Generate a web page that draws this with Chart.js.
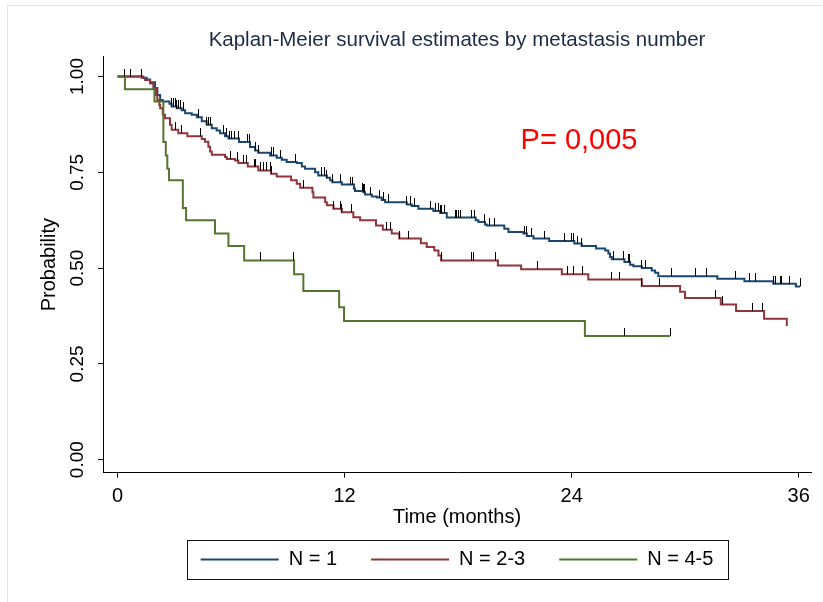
<!DOCTYPE html>
<html>
<head>
<meta charset="utf-8">
<script src="https://cdn.jsdelivr.net/npm/chart.js@4.4.1/dist/chart.umd.min.js"></script>
<style>
  html, body { margin: 0; padding: 0; background: #fff; }
</style>
</head>
<body>
<canvas id="myChart" width="823" height="602"></canvas>
<script>
// axis ticks
const xTicks = [0, 12, 24, 36];
const xTickLabels = ['0', '12', '24', '36'];
const yTicks = [0, 0.25, 0.5, 0.75, 1];
const yTickLabels = ['0.00', '0.25', '0.50', '0.75', '1.00'];

const groupNames = ['N = 1', 'N = 2-3', 'N = 4-5'];

// Kaplan-Meier curves: [months, survival]
const blueCurve = [
  [0, 1], [1.36, 0.997], [1.54, 0.992], [1.72, 0.985], [1.98, 0.970], [2.10, 0.952], [2.25, 0.939], [2.39, 0.935],
  [2.74, 0.929], [2.86, 0.922], [3.13, 0.917], [3.39, 0.912], [3.57, 0.904], [3.92, 0.900], [4.19, 0.894],
  [4.45, 0.883], [4.71, 0.874], [4.98, 0.865], [5.24, 0.859], [5.42, 0.852], [5.68, 0.844], [5.86, 0.838],
  [6.42, 0.829], [7.00, 0.816], [7.27, 0.807], [7.44, 0.801], [8.06, 0.794], [8.41, 0.788], [8.68, 0.783],
  [8.94, 0.777], [9.47, 0.774], [9.74, 0.765], [9.91, 0.759], [10.44, 0.750], [10.61, 0.742], [11.06, 0.736],
  [11.23, 0.729], [11.35, 0.724], [11.85, 0.718], [12.50, 0.707], [12.55, 0.701], [12.99, 0.698], [13.08, 0.692],
  [13.44, 0.687], [13.70, 0.684], [13.96, 0.678], [14.14, 0.672], [15.29, 0.666], [15.55, 0.662], [15.90, 0.655],
  [16.69, 0.649], [17.05, 0.644], [17.40, 0.632], [18.93, 0.625], [19.07, 0.620], [19.42, 0.614], [19.51, 0.611],
  [20.44, 0.603], [20.66, 0.594], [21.45, 0.590], [21.63, 0.584], [21.98, 0.577], [22.81, 0.571], [24.14, 0.564],
  [24.53, 0.558], [25.29, 0.551], [25.77, 0.546], [25.94, 0.538], [26.03, 0.529], [26.12, 0.523], [26.79, 0.516],
  [27.09, 0.509], [27.26, 0.505], [27.71, 0.500], [28.23, 0.494], [28.41, 0.488], [28.58, 0.479], [31.70, 0.472],
  [33.13, 0.466], [34.66, 0.459], [35.85, 0.452], [36.07, 0.452]
];
const redCurve = [
  [0, 1], [1.28, 0.996], [1.45, 0.991], [1.72, 0.982], [1.89, 0.970], [2.03, 0.952], [2.10, 0.939], [2.21, 0.926],
  [2.25, 0.917], [2.39, 0.900], [2.51, 0.891], [2.77, 0.874], [2.86, 0.861], [3.21, 0.852], [3.69, 0.844],
  [4.45, 0.837], [4.62, 0.830], [4.80, 0.817], [4.89, 0.804], [4.98, 0.796], [5.68, 0.790], [5.77, 0.785],
  [6.21, 0.781], [6.38, 0.774], [6.88, 0.765], [7.44, 0.755], [8.11, 0.746], [8.41, 0.739], [9.17, 0.729],
  [9.47, 0.720], [9.65, 0.710], [10.30, 0.698], [10.35, 0.684], [10.97, 0.672], [11.06, 0.664], [11.41, 0.655],
  [11.85, 0.646], [12.46, 0.633], [12.82, 0.625], [13.66, 0.611], [14.02, 0.600], [14.49, 0.590], [14.89, 0.577],
  [16.03, 0.565], [16.34, 0.555], [16.74, 0.546], [16.96, 0.533], [17.10, 0.520], [20.10, 0.507], [21.33, 0.497],
  [23.48, 0.484], [24.88, 0.470], [27.71, 0.453], [29.73, 0.438], [29.99, 0.422], [31.88, 0.405], [32.69, 0.388],
  [34.17, 0.368], [35.37, 0.349]
];
const greenCurve = [
  [0, 1], [0.39, 0.967], [1.95, 0.935], [2.42, 0.829], [2.55, 0.794], [2.63, 0.759], [2.72, 0.729], [3.45, 0.657],
  [3.62, 0.625], [5.15, 0.590], [5.86, 0.558], [6.69, 0.520], [9.33, 0.484], [9.82, 0.440], [11.71, 0.398],
  [11.97, 0.362], [24.70, 0.323], [29.20, 0.323]
];

// censored times (months)
const blueCensor = [0.37, 1.28, 2.86, 2.95, 3.04, 3.13, 3.21, 3.30, 3.48, 4.27, 4.71, 4.80, 4.89, 5.59, 5.77, 5.91,
  6.04, 6.17, 6.39, 6.88, 6.95, 7.27, 7.44, 8.15, 8.23, 8.59, 9.43, 10.79, 10.93, 11.06, 11.35, 11.76, 12.29, 12.43,
  12.96, 12.99, 13.03, 13.35, 13.87, 14.05, 14.31, 15.29, 15.46, 15.67, 16.55, 16.83, 16.98, 17.05, 17.14, 17.27,
  17.84, 17.93, 18.01, 18.14, 18.68, 18.86, 19.39, 19.64, 19.92, 21.50, 21.59, 21.89, 22.54, 23.62, 23.97, 24.09,
  24.32, 24.54, 26.21, 26.73, 27.00, 27.05, 27.71, 27.88, 29.29, 30.52, 31.11, 32.64, 33.39, 33.73, 34.66, 34.75,
  35.02, 35.11, 35.49, 36.07];
const redCensor = [0.70, 3.08, 3.36, 4.40, 5.98, 6.35, 6.65, 6.83, 7.23, 7.30, 7.53, 7.71, 7.89, 8.06, 8.15, 9.82,
  11.41, 11.76, 11.85, 12.38, 14.19, 14.44, 14.89, 15.37, 17.14, 18.68, 18.81, 19.95, 22.21, 23.79, 24.09, 24.59,
  26.08, 26.52, 27.71, 28.64, 31.62, 31.97, 33.55, 34.08];
const greenCensor = [7.53, 9.30, 26.79, 29.20];

const pValueText = 'P= 0,005';
const pValueAt = [21.3, 0.833];

// styles
const groupColors = ['#1a476f', '#90353b', '#55752f'];
const fontFamily = '"Liberation Sans", Arial, sans-serif';
Chart.defaults.font.family = fontFamily;

function survivalAt(curve, t) {
    let s = curve[0][1];
    for (let i = 0; i < curve.length; i++) {
        if (curve[i][0] <= t) s = curve[i][1];
    }
    return s;
}

// small vertical tick that sits on top of the line
const censorMark = document.createElement('canvas');
censorMark.width = 1;
censorMark.height = 16;
const cm = censorMark.getContext('2d');
cm.fillStyle = '#000';
cm.fillRect(0, 0, 1, 8);

const curves = [blueCurve, redCurve, greenCurve];
const censors = [blueCensor, redCensor, greenCensor];
const datasets = [];

curves.forEach(function (curve, i) {
    datasets.push({
        label: groupNames[i],
        data: curve.map(p => ({ x: p[0], y: p[1] })),
        stepped: 'before',
        borderColor: groupColors[i],
        backgroundColor: groupColors[i],
        borderWidth: 2,
        pointRadius: 0,
        fill: false,
        order: 3 - i
    });
});
censors.forEach(function (times, i) {
    datasets.push({
        label: '',
        data: times.map(t => ({ x: t, y: survivalAt(curves[i], t) })),
        showLine: false,
        pointStyle: censorMark,
        pointRadius: 4,
        order: -1
    });
});

const framePlugin = {
    id: 'frame',
    beforeDraw(chart) {
        const ctx = chart.ctx;
        ctx.save();
        ctx.fillStyle = '#fff';
        ctx.fillRect(0, 0, chart.width, chart.height);
        ctx.strokeStyle = '#e2e2e2';
        ctx.lineWidth = 1;
        ctx.strokeRect(7.5, 5.5, chart.width, chart.height);
        ctx.restore();
    },
    afterDatasetsDraw(chart) {
        const ctx = chart.ctx;
        const x = chart.scales.x.getPixelForValue(pValueAt[0]);
        const y = chart.scales.y.getPixelForValue(pValueAt[1]);
        ctx.save();
        ctx.fillStyle = '#ff0000';
        ctx.font = '29px ' + fontFamily;
        ctx.textAlign = 'left';
        ctx.textBaseline = 'middle';
        ctx.fillText(pValueText, x, y);
        ctx.restore();
    },
    afterDraw(chart) {
        const hb = chart.legend.legendHitBoxes;
        if (!hb || !hb.length) return;
        const ctx = chart.ctx;
        const left = Math.min(...hb.map(b => b.left)) - 14;
        const right = Math.max(...hb.map(b => b.left + b.width)) + 14;
        const cy = hb[0].top + hb[0].height / 2;
        ctx.save();
        ctx.strokeStyle = '#111';
        ctx.lineWidth = 1;
        ctx.strokeRect(Math.round(left) + 0.5, Math.round(cy - 19.5) + 0.5, Math.round(right - left), 39);
        ctx.restore();
    }
};

new Chart(document.getElementById('myChart'), {
    type: 'line',
    data: { datasets: datasets },
    plugins: [framePlugin],
    options: {
        responsive: false,
        animation: false,
        layout: { padding: { top: 0, right: 12, bottom: 22.5, left: 0 } },
        plugins: {
            tooltip: { enabled: false },
            title: {
                display: true,
                fullSize: false,
                text: 'Kaplan-Meier survival estimates by metastasis number',
                color: '#1c2b45',
                font: { size: 20.5, weight: 'normal' },
                padding: { top: 28, bottom: 4 }
            },
            legend: {
                position: 'bottom',
                fullSize: false,
                labels: {
                    boxWidth: 78,
                    boxHeight: 2,
                    padding: 34,
                    color: '#000',
                    font: { size: 20 },
                    generateLabels(chart) {
                        return Chart.defaults.plugins.legend.labels.generateLabels(chart).map(function (l) {
                            l.lineWidth = 0;
                            return l;
                        });
                    },
                    filter: item => item.datasetIndex < 3,
                    sort: (a, b) => a.datasetIndex - b.datasetIndex
                }
            }
        },
        scales: {
            x: {
                type: 'linear',
                min: -0.77,
                max: 36.65,
                afterBuildTicks: s => { s.ticks = xTicks.map(v => ({ value: v })); },
                afterFit: s => { s.height = 42.8; s.paddingLeft = 0; s.paddingRight = 0; },
                ticks: {
                    color: '#000',
                    font: { size: 20 },
                    padding: 7,
                    maxRotation: 0,
                    callback: (v, i) => xTickLabels[i]
                },
                grid: { drawOnChartArea: false, drawTicks: true, tickLength: 5, color: '#000' },
                border: { display: true, color: '#000', width: 1 },
                title: {
                    display: true,
                    text: 'Time (months)',
                    color: '#000',
                    font: { size: 20 },
                    padding: { top: 0, bottom: -13.5 }
                }
            },
            y: {
                type: 'linear',
                min: -0.034,
                max: 1.052,
                afterBuildTicks: s => { s.ticks = yTicks.map(v => ({ value: v })); },
                afterFit: s => { s.width = 103; s.paddingTop = 0; s.paddingBottom = 0; },
                ticks: {
                    color: '#000',
                    font: { size: 19 },
                    padding: 2,
                    minRotation: 90,
                    maxRotation: 90,
                    crossAlign: 'center',
                    callback: (v, i) => yTickLabels[i]
                },
                grid: { drawOnChartArea: false, drawTicks: true, tickLength: 5, color: '#000' },
                border: { display: true, color: '#000', width: 1 },
                title: {
                    display: true,
                    text: 'Probability',
                    color: '#000',
                    font: { size: 20 },
                    padding: { top: 37, bottom: 0 }
                }
            }
        }
    }
});
</script>
</body>
</html>
